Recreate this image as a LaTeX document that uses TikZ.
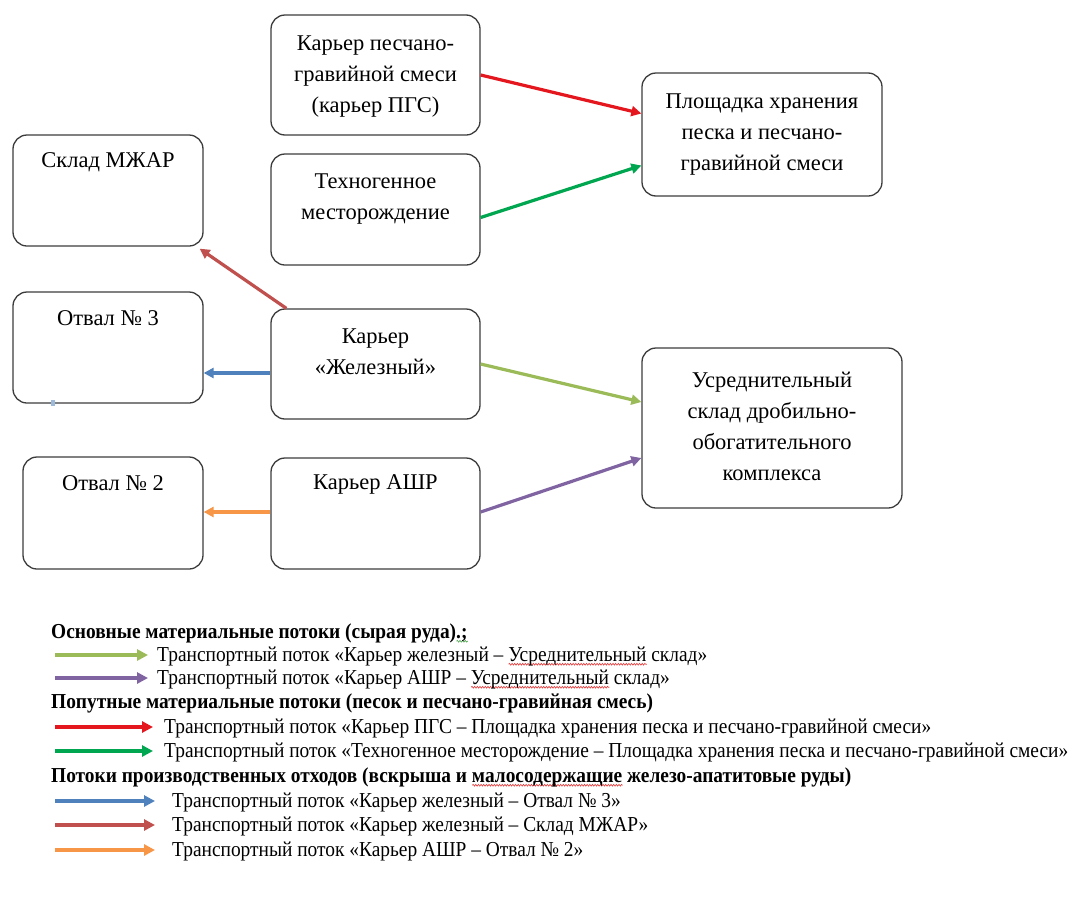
\documentclass[tikz,border=0pt]{standalone}
\usepackage{graphicx}
\usepackage{fontspec}
\setmainfont{Liberation Serif}
\usetikzlibrary{arrows.meta,calc,decorations.pathmorphing}
\definecolor{cRed}{RGB}{228,22,30}
\definecolor{cGreen}{RGB}{0,166,80}
\definecolor{cBrown}{RGB}{192,80,77}
\definecolor{cBlue}{RGB}{79,129,189}
\definecolor{cLGreen}{RGB}{155,187,89}
\definecolor{cPurple}{RGB}{128,100,162}
\definecolor{cOrange}{RGB}{247,150,70}
\definecolor{cEdge}{RGB}{60,60,60}
\definecolor{cSpell}{RGB}{225,60,60}
\definecolor{cGram}{RGB}{90,170,90}
\newcommand\legfont{\fontsize{19}{22}\selectfont}
\newcommand\legbold{\fontsize{19}{22}\selectfont\bfseries}
\newlength\lgw
\newlength\lgh
\newsavebox\wvbox
\newcommand\wavy[2][cSpell]{\sbox\wvbox{#2}\rlap{\raisebox{-4pt}{\tikz\draw[#1, line width=0.6pt, decorate, decoration={snake, amplitude=0.8pt, segment length=2.6pt}] (0pt,0pt) -- (\wd\wvbox,0pt);}}\usebox\wvbox}
\newcommand\legtext[1]{\scalebox{\lsx}[1.12]{\legfont #1}}
\newcommand\leghead[1]{\scalebox{\hsx}[1.12]{\legbold #1}}
\begin{document}
\settowidth{\lgw}{\legfont Транспортный поток «Техногенное месторождение – Площадка хранения песка и песчано-гравийной смеси»}%
\settowidth{\lgh}{\legbold Потоки производственных отходов (вскрыша и малосодержащие железо-апатитовые руды)}%
\pgfmathsetmacro\lsx{904/\lgw}%
\pgfmathsetmacro\hsx{800/\lgh}%
\begin{tikzpicture}[x=1pt,y=-1pt,
  box/.style={draw=cEdge, line width=1.3pt, rounded corners=14pt, inner sep=0pt},
  btxt/.style={align=center, inner sep=0pt, font=\fontsize{22.5}{31}\selectfont},
  flow/.style={line width=3.2pt, -{Triangle[length=10pt,width=10pt]}},
  legarr/.style={line width=4.5pt, -{Triangle[length=11pt,width=11pt]}},
  ltxt/.style={anchor=base west, inner sep=0pt}]
\fill[white] (0,0) rectangle (1070,900);
\useasboundingbox (0,0) rectangle (1070,900);

% boxes
\node[box, minimum width=209pt, minimum height=120pt] (pgs) at (375.5,75) {};
\node[box, minimum width=209pt, minimum height=111pt] (tech) at (375.5,209.5) {};
\node[box, minimum width=190pt, minimum height=111pt] (mzhar) at (108,190.5) {};
\node[box, minimum width=190pt, minimum height=111pt] (otv3) at (108,347.5) {};
\node[box, minimum width=209pt, minimum height=110pt] (zhel) at (375.5,364) {};
\node[box, minimum width=180pt, minimum height=112pt] (otv2) at (113,513) {};
\node[box, minimum width=209pt, minimum height=111pt] (ashr) at (375.5,513.5) {};
\node[box, minimum width=240pt, minimum height=123pt] (plosh) at (762,134.5) {};
\node[box, minimum width=260pt, minimum height=160pt] (usr) at (772,428) {};

% box texts
\node[btxt] (pgst) at (375.5,77) {Карьер песчано-\\гравийной смеси\\(карьер ПГС)};
\node[btxt] (techt) at (375.5,199) {Техногенное\\месторождение};
\node[btxt] (mzhart) at (108,162) {Склад МЖАР};
\node[btxt] (otv3t) at (108,318) {Отвал № 3};
\node[btxt] (zhelt) at (375.5,352) {Карьер\\«Железный»};
\node[btxt] (otv2t) at (113,483) {Отвал № 2};
\node[btxt] (ashrt) at (375.5,484) {Карьер АШР};
\node[btxt] (plosht) at (762,135) {Площадка хранения\\песка и песчано-\\гравийной смеси};
\node[btxt] (usrt) at (772,426) {Усреднительный\\склад дробильно-\\обогатительного\\комплекса};

% connectors
\draw[flow, cRed] (pgs.east) -- ([yshift=21pt]plosh.west);
\draw[flow, cGreen] ([yshift=-8pt]tech.east) -- ([yshift=-31pt]plosh.west);
\draw[flow, cBrown] ([xshift=16pt]zhel.north west) -- ([xshift=-4pt,yshift=-2pt]mzhar.south east);
\draw[flow, cBlue] ([yshift=-9pt]zhel.west) -- ([yshift=-9pt]zhel.west -| otv3.east);
\draw[flow, cLGreen] (zhel.east) -- ([yshift=26pt]usr.west);
\draw[flow, cPurple] ([yshift=1.5pt]ashr.east) -- ([yshift=-30pt]usr.west);
\draw[flow, cOrange] ([yshift=1.5pt]ashr.west) -- ([yshift=1.5pt]ashr.west -| otv2.east);
\fill[cBlue!55] (51,400) rectangle (55,406);

% legend
\node[ltxt] (h1) at (51,638) {\leghead{Основные материальные потоки (сырая руда)\wavy[cGram]{.;}}};
\coordinate (a1s) at (55,655); \coordinate (a1e) at (148,655);
\draw[legarr, cLGreen] (a1s) -- (a1e);
\node[ltxt] (l1) at (157,661) {\legtext{Транспортный поток «Карьер железный – \wavy{Усреднительный} склад»}};
\coordinate (a2s) at (55,678); \coordinate (a2e) at (148,678);
\draw[legarr, cPurple] (a2s) -- (a2e);
\node[ltxt] (l2) at (157,684) {\legtext{Транспортный поток «Карьер АШР – \wavy{Усреднительный} склад»}};
\node[ltxt] (h2) at (51,708) {\leghead{Попутные материальные потоки (песок и песчано-гравийная смесь)}};
\coordinate (a3s) at (55,727); \coordinate (a3e) at (153,727);
\draw[legarr, cRed] (a3s) -- (a3e);
\node[ltxt] (l3) at (164,733) {\legtext{Транспортный поток «Карьер ПГС – Площадка хранения песка и песчано-гравийной смеси»}};
\coordinate (a4s) at (55,751); \coordinate (a4e) at (153,751);
\draw[legarr, cGreen] (a4s) -- (a4e);
\node[ltxt] (l4) at (164,757) {\legtext{Транспортный поток «Техногенное месторождение – Площадка хранения песка и песчано-гравийной смеси»}};
\node[ltxt] (h3) at (51,782) {\leghead{Потоки производственных отходов (вскрыша и \wavy{малосодержащие} железо-апатитовые руды)}};
\coordinate (a5s) at (55,801); \coordinate (a5e) at (155,801);
\draw[legarr, cBlue] (a5s) -- (a5e);
\node[ltxt] (l5) at (172,807) {\legtext{Транспортный поток «Карьер железный – Отвал № 3»}};
\coordinate (a6s) at (55,825); \coordinate (a6e) at (155,825);
\draw[legarr, cBrown] (a6s) -- (a6e);
\node[ltxt] (l6) at (172,831) {\legtext{Транспортный поток «Карьер железный – Склад МЖАР»}};
\coordinate (a7s) at (55,850); \coordinate (a7e) at (155,850);
\draw[legarr, cOrange] (a7s) -- (a7e);
\node[ltxt] (l7) at (172,856) {\legtext{Транспортный поток «Карьер АШР – Отвал № 2»}};
\end{tikzpicture}
\end{document}
